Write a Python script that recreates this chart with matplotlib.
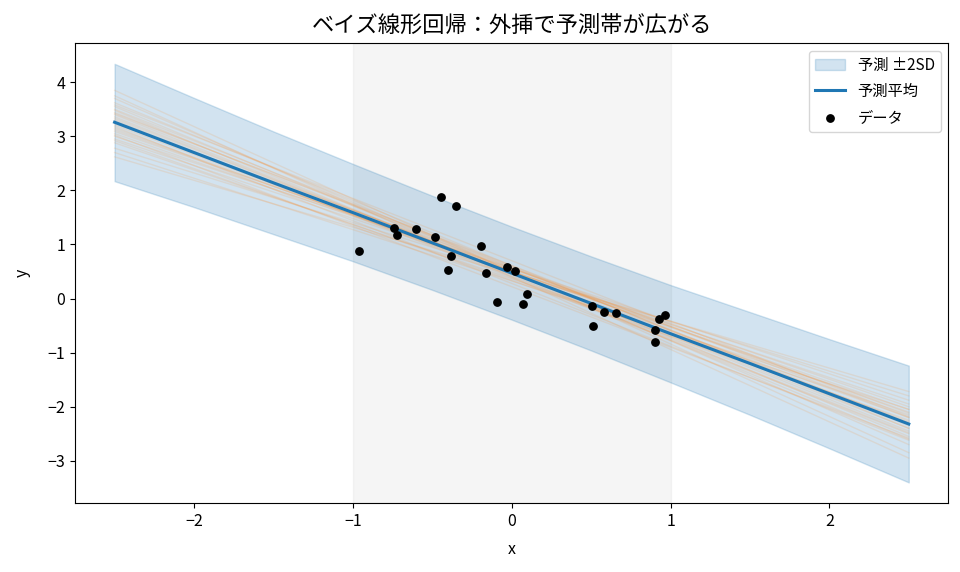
import matplotlib
matplotlib.use("Agg")
from matplotlib import pyplot as plt
import numpy as np

plt.rcParams['font.family'] = ['Noto Sans CJK JP', 'DejaVu Sans']
plt.rcParams['xtick.labelsize'] = 11.5
plt.rcParams['ytick.labelsize'] = 11.5
plt.rcParams['axes.labelsize'] = 11.5

# predictive grid
grid_x = [-2.5, -2.0, -1.5, -1.0, -0.5, 0.0, 0.5, 1.0, 1.5, 2.0, 2.5]
pred_mean = [3.26, 2.70, 2.14, 1.59, 1.03, 0.47, -0.09, -0.65, -1.20, -1.76, -2.32]
pred_upper = [4.34, 3.71, 3.09, 2.49, 1.90, 1.33, 0.78, 0.25, -0.25, -0.75, -1.24]
pred_lower = [2.17, 1.69, 1.19, 0.69, 0.16, -0.39, -0.96, -1.55, -2.15, -2.77, -3.40]

# posterior sample lines: value at x=-2.5 and x=2.5
samp_left = [3.55, 3.12, 3.40, 2.95, 3.70, 3.21, 3.05, 3.48, 2.78, 3.33,
             3.62, 3.15, 2.88, 3.27, 3.85, 3.00, 3.44, 2.62, 3.18, 3.58,
             3.36, 2.92, 3.09, 3.75, 3.24, 2.70, 3.50, 3.30, 3.02, 3.42]
samp_right = [-2.55, -2.10, -2.45, -1.95, -2.70, -2.28, -2.05, -2.60, -1.80, -2.35,
              -2.40, -2.20, -2.15, -2.50, -2.85, -1.88, -2.30, -1.72, -2.62, -2.18,
              -2.40, -2.25, -2.00, -2.95, -2.12, -2.05, -2.33, -2.48, -2.58, -2.20]

# observations
data_x = [-0.959, -0.741, -0.725, -0.603, -0.483, -0.443, -0.349, -0.379, -0.398,
          -0.192, -0.159, -0.093, -0.030, 0.021, 0.097, 0.070, 0.504, 0.510,
          0.580, 0.656, 0.904, 0.902, 0.929, 0.965]
data_y = [0.87, 1.31, 1.18, 1.29, 1.14, 1.87, 1.72, 0.79, 0.52,
          0.98, 0.48, -0.06, 0.59, 0.51, 0.09, -0.10, -0.14, -0.51,
          -0.25, -0.27, -0.58, -0.80, -0.37, -0.30]


def main():
    fig, ax = plt.subplots(figsize=(9.6, 5.72), dpi=100)

    ax.axvspan(-1, 1, color='lightgray', alpha=0.22, zorder=0)
    ax.fill_between(grid_x, pred_lower, pred_upper, color='C0', alpha=0.2,
                    label='予測 ±2SD', zorder=1)
    for yl, yr in zip(samp_left, samp_right):
        ax.plot([-2.5, 2.5], [yl, yr], color='C1', alpha=0.13, lw=1, zorder=2)
    ax.plot(grid_x, pred_mean, color='C0', lw=2.2, label='予測平均', zorder=3)
    ax.scatter(data_x, data_y, color='black', s=28, label='データ', zorder=4)

    ax.set_title('ベイズ線形回帰：外挿で予測帯が広がる', fontsize=16, pad=8)
    ax.set_xlabel('x', labelpad=8)
    ax.set_ylabel('y', labelpad=12)
    ax.legend(loc='upper right', fontsize=11, labelspacing=0.6)

    fig.subplots_adjust(left=0.078, right=0.988, top=0.925, bottom=0.12)
    fig.savefig('out.png', dpi=100)


if __name__ == '__main__':
    main()
